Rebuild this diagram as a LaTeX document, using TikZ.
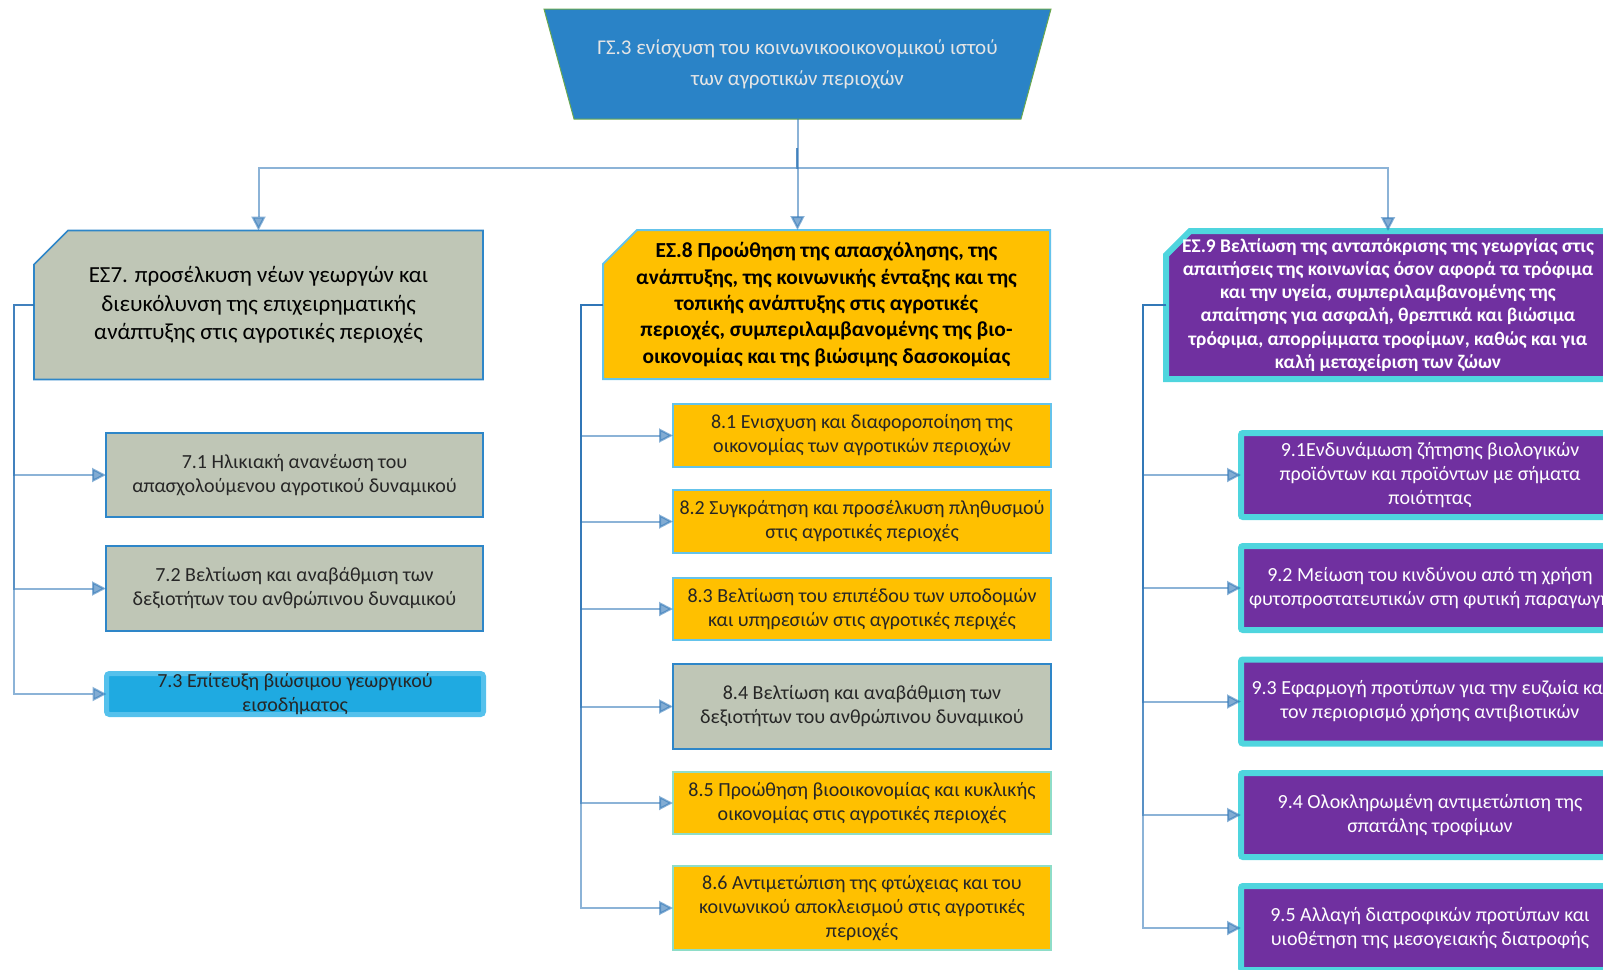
\documentclass[tikz,border=0pt]{standalone}
\usepackage{fontspec}
\setmainfont{Carlito}
\usetikzlibrary{arrows.meta,shapes.misc,backgrounds}

\definecolor{gsblue}{RGB}{42,131,199}
\definecolor{gsline}{RGB}{106,168,79}
\definecolor{sage}{RGB}{191,198,182}
\definecolor{sageline}{RGB}{46,134,200}
\definecolor{gold}{RGB}{255,192,0}
\definecolor{skyline}{RGB}{100,195,235}
\definecolor{mintline}{RGB}{142,221,200}
\definecolor{cyanfill}{RGB}{31,170,225}
\definecolor{cyanline}{RGB}{85,193,236}
\definecolor{violet}{RGB}{112,48,160}
\definecolor{turq}{RGB}{79,213,222}
\definecolor{linkblue}{RGB}{46,117,182}

\begin{document}
\begin{tikzpicture}[x=0.5pt,y=-0.5pt]
    \tikzstyle{box}=[rectangle,align=center,outer sep=0pt,inner xsep=2pt,inner ysep=0pt,text=black!85,font=\fontsize{10}{12}\selectfont]
    \tikzstyle{goal}=[box,chamfered rectangle,chamfered rectangle corners=north west,chamfered rectangle xsep=8.5pt,chamfered rectangle ysep=8.5pt,inner xsep=0pt,minimum height=74.5pt]
    \tikzstyle{sagebox}=[box,fill=sage,draw=sageline,line width=0.8pt,minimum width=188.5pt]
    \tikzstyle{goldbox}=[box,fill=gold,draw=skyline,line width=0.8pt,minimum width=189pt]
    \tikzstyle{violetbox}=[box,fill=violet,draw=turq,line width=3pt,rounded corners=1pt,text=white,minimum width=189pt,minimum height=42pt]
    \tikzstyle{edge}=[draw,linkblue,draw opacity=0.55,fill opacity=0.6,line width=1pt,-{Triangle[length=7pt,width=7pt]}]

    \useasboundingbox (0,0) rectangle (1603,970);
    \clip (0,0) rectangle (1603,970);

    \node[box,minimum width=253.5pt,minimum height=55pt,text=white!90!black,font=\fontsize{10.5}{15.5}\selectfont] (gs) at (797.5,64)
        {ΓΣ.3 ενίσχυση του κοινωνικοοικονομικού ιστού\\των αγροτικών περιοχών};
    \begin{scope}[on background layer]
        \fill[gsblue,draw=gsline,line width=0.5pt] (gs.north west) -- (gs.north east) -- ([xshift=-15pt]gs.south east) -- ([xshift=15pt]gs.south west) -- cycle;
    \end{scope}

    \node[goal,fill=sage,draw=sageline,line width=0.8pt,minimum width=224.5pt,text=black,font=\fontsize{11.5}{14.3}\selectfont] (es7) at (258.5,305)
        {ΕΣ7. προσέλκυση νέων γεωργών και\\διευκόλυνση της επιχειρηματικής\\ανάπτυξης στις αγροτικές περιοχές};
    \node[goal,fill=gold,draw=skyline,line width=1pt,minimum width=223.5pt,inner ysep=-8pt,text=black,font=\fontsize{10.7}{13.2}\selectfont\bfseries] (es8) at (826.5,304.5)
        {ΕΣ.8 Προώθηση της απασχόλησης, της\\ανάπτυξης, της κοινωνικής ένταξης και της\\τοπικής ανάπτυξης στις αγροτικές\\περιοχές, συμπεριλαμβανομένης της βιο-\\οικονομίας και της βιώσιμης δασοκομίας};
    \node[goal,chamfered rectangle xsep=6pt,chamfered rectangle ysep=6pt,fill=violet,draw=turq,line width=3pt,minimum width=222pt,minimum height=74pt,inner xsep=-2pt,inner ysep=-8pt,text=white,font=\fontsize{9.7}{11.6}\selectfont\bfseries] (es9) at (1388,305)
        {ΕΣ.9 Βελτίωση της ανταπόκρισης της γεωργίας στις\\απαιτήσεις της κοινωνίας όσον αφορά τα τρόφιμα\\και την υγεία, συμπεριλαμβανομένης της\\απαίτησης για ασφαλή, θρεπτικά και βιώσιμα\\τρόφιμα, απορρίμματα τροφίμων, καθώς και για\\καλή μεταχείριση των ζώων};

    \node[sagebox,minimum height=42pt] (c71) at (294.5,475) {7.1 Ηλικιακή ανανέωση του\\απασχολούμενου αγροτικού δυναμικού};
    \node[sagebox,minimum height=42.5pt] (c72) at (294.5,588.5) {7.2 Βελτίωση και αναβάθμιση των\\δεξιοτήτων του ανθρώπινου δυναμικού};
    \node[box,fill=cyanfill,draw=cyanline,line width=2.5pt,rounded corners=1.5pt,minimum width=188.5pt,minimum height=20.5pt,inner ysep=-4pt] (c73) at (295,694) {7.3 Επίτευξη βιώσιμου γεωργικού\\εισοδήματος};

    \node[goldbox,minimum height=31.5pt] (c81) at (862,435.5) {8.1 Ενισχυση και διαφοροποίηση της\\οικονομίας των αγροτικών περιοχών};
    \node[goldbox,minimum height=31.5pt] (c82) at (862,521.5) {8.2 Συγκράτηση και προσέλκυση πληθυσμού\\στις αγροτικές περιοχές};
    \node[goldbox,minimum height=31pt] (c83) at (862,609) {8.3 Βελτίωση του επιπέδου των υποδομών\\και υπηρεσιών στις αγροτικές περιχές};
    \node[sagebox,line width=1.2pt,minimum width=189pt,minimum height=42.5pt] (c84) at (862,706.5) {8.4 Βελτίωση και αναβάθμιση των\\δεξιοτήτων του ανθρώπινου δυναμικού};
    \node[goldbox,draw=mintline,minimum height=31pt] (c85) at (862,803) {8.5 Προώθηση βιοοικονομίας και κυκλικής\\οικονομίας στις αγροτικές περιοχές};
    \node[goldbox,draw=mintline,minimum height=42pt] (c86) at (862,908) {8.6 Αντιμετώπιση της φτώχειας και του\\κοινωνικού αποκλεισμού στις αγροτικές\\περιοχές};

    \node[violetbox] (c91) at (1430,475) {9.1Ενδυνάμωση ζήτησης βιολογικών\\προϊόντων και προϊόντων με σήματα\\ποιότητας};
    \node[violetbox] (c92) at (1430,588) {9.2 Μείωση του κινδύνου από τη χρήση\\φυτοπροστατευτικών στη φυτική παραγωγή};
    \node[violetbox] (c93) at (1430,701.5) {9.3 Εφαρμογή προτύπων για την ευζωία και\\τον περιορισμό χρήσης αντιβιοτικών};
    \node[violetbox] (c94) at (1430,815) {9.4 Ολοκληρωμένη αντιμετώπιση της\\σπατάλης τροφίμων};
    \node[violetbox] (c95) at (1430,928) {9.5 Αλλαγή διατροφικών προτύπων και\\υιοθέτηση της μεσογειακής διατροφής};

    \coordinate (fork) at (797,148);
    \coordinate (bus) at (797,168);
    \path[edge] (gs.south) -- (gs.south |- es8.north);
    \path[edge] (fork) -- (bus) -| (es7.north);
    \path[edge] (fork) -- (bus) -| (es9.north);

    \foreach \c in {c71,c72,c73}
        \path[edge] (es7.west) -- ++(-20,0) |- (\c.west);
    \foreach \c in {c81,c82,c83,c84,c85,c86}
        \path[edge] (es8.west) -- ++(-22,0) |- (\c.west);
    \foreach \c in {c91,c92,c93,c94,c95}
        \path[edge] (es9.west) -- ++(-23,0) |- (\c.west);

\end{tikzpicture}
\end{document}
